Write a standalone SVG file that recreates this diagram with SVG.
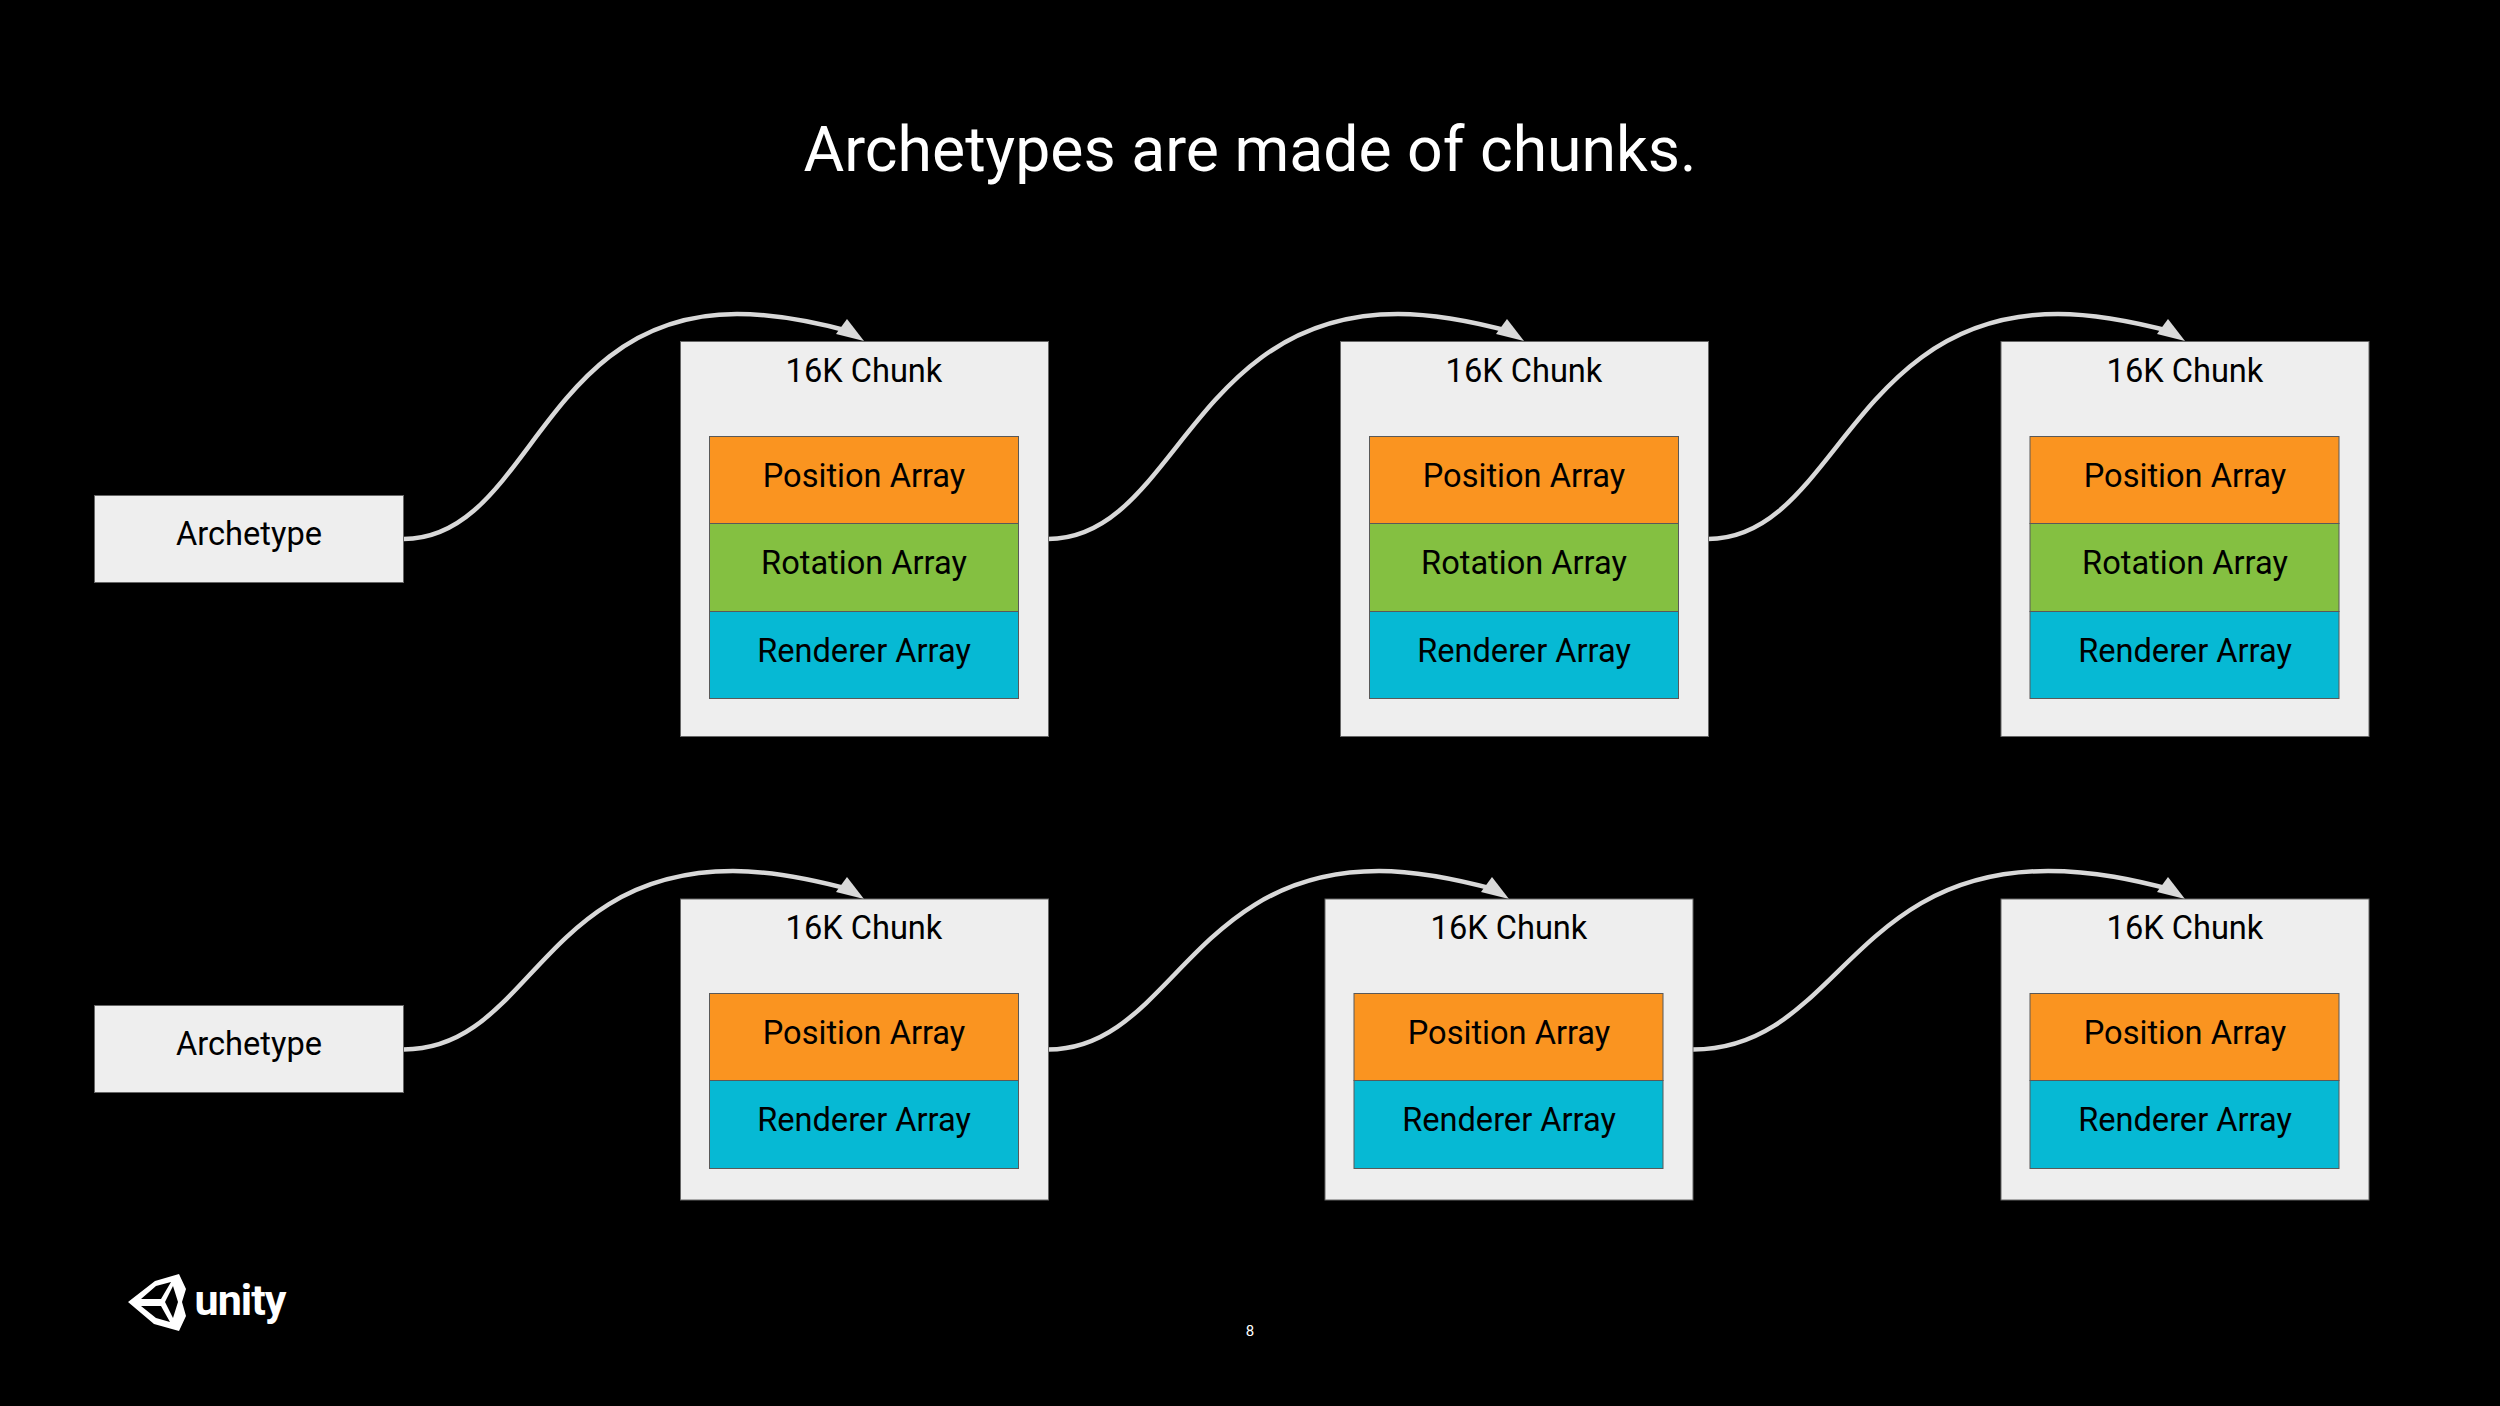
<svg xmlns="http://www.w3.org/2000/svg" width="2500" height="1406" viewBox="0 0 2500 1406">
<style>
text{font-family:Roboto,"Liberation Sans",sans-serif;text-anchor:middle;fill:#000;font-size:32.6px}
.box{fill:#eee;stroke:#666;stroke-width:1}
.in{stroke:#595959;stroke-width:1}
.o{fill:#fa9420}.g{fill:#84c041}.b{fill:#06b9d4}
.c{fill:none;stroke:#d9d9d9;stroke-width:4.5}
.h{fill:#d9d9d9}
</style>
<rect width="2500" height="1406" fill="#000"/>
<text id="title" x="1250" y="171" style="font-size:62.5px;fill:#fff">Archetypes are made of chunks.</text>
<g id="connectors">
<path class="c" d="M403.5 539C530 539 540 314 737 314C777 314 815 322 852 332"/><path class="h" d="M864 341L836 334L847 319Z"/>
<path class="c" d="M1048 539C1175 539 1190 314 1398 314C1438 314 1475 322 1512 332"/><path class="h" d="M1524 341L1496 334L1507 319Z"/>
<path class="c" d="M1708 539C1835 539 1850 314 2058 314C2097 314 2135 322 2173 332"/><path class="h" d="M2185 341L2157 334L2168 319Z"/>
<path class="c" d="M403.5 1049.5C530 1049.5 540 871 733 871C775 871 815 880 852 890"/><path class="h" d="M864 899L836 892L847 877Z"/>
<path class="c" d="M1048 1049.5C1170 1049.5 1190 871 1379 871C1420 871 1460 880 1497 890"/><path class="h" d="M1509 899L1481 892L1492 877Z"/>
<path class="c" d="M1693 1049.5C1835 1049.5 1850 871 2048 871C2095 871 2135 880 2173 890"/><path class="h" d="M2185 899L2157 892L2168 877Z"/>
</g>
<g id="archetype-1"><rect class="box" x="94.5" y="495.5" width="309" height="87"/><text x="249" y="545">Archetype</text></g>
<g id="archetype-2"><rect class="box" x="94.5" y="1005.5" width="309" height="87"/><text x="249" y="1055">Archetype</text></g>
<g id="chunk-1-1"><rect class="box" x="680.5" y="341.5" width="368" height="395"/><text x="864" y="382">16K Chunk</text>
<rect class="in o" x="709.5" y="436.5" width="309" height="87"/><text x="864" y="487">Position Array</text>
<rect class="in g" x="709.5" y="523.5" width="309" height="88"/><text x="864" y="574">Rotation Array</text>
<rect class="in b" x="709.5" y="611.5" width="309" height="87"/><text x="864" y="662">Renderer Array</text></g>
<g id="chunk-1-2"><rect class="box" x="1340.5" y="341.5" width="368" height="395"/><text x="1524" y="382">16K Chunk</text>
<rect class="in o" x="1369.5" y="436.5" width="309" height="87"/><text x="1524" y="487">Position Array</text>
<rect class="in g" x="1369.5" y="523.5" width="309" height="88"/><text x="1524" y="574">Rotation Array</text>
<rect class="in b" x="1369.5" y="611.5" width="309" height="87"/><text x="1524" y="662">Renderer Array</text></g>
<g id="chunk-1-3"><rect class="box" x="2001" y="341.5" width="368" height="395"/><text x="2185" y="382">16K Chunk</text>
<rect class="in o" x="2030" y="436.5" width="309" height="87"/><text x="2185" y="487">Position Array</text>
<rect class="in g" x="2030" y="523.5" width="309" height="88"/><text x="2185" y="574">Rotation Array</text>
<rect class="in b" x="2030" y="611.5" width="309" height="87"/><text x="2185" y="662">Renderer Array</text></g>
<g id="chunk-2-1"><rect class="box" x="680.5" y="899" width="368" height="301"/><text x="864" y="939">16K Chunk</text>
<rect class="in o" x="709.5" y="993.5" width="309" height="87"/><text x="864" y="1044">Position Array</text>
<rect class="in b" x="709.5" y="1080.5" width="309" height="88"/><text x="864" y="1131">Renderer Array</text></g>
<g id="chunk-2-2"><rect class="box" x="1325" y="899" width="368" height="301"/><text x="1509" y="939">16K Chunk</text>
<rect class="in o" x="1354" y="993.5" width="309" height="87"/><text x="1509" y="1044">Position Array</text>
<rect class="in b" x="1354" y="1080.5" width="309" height="88"/><text x="1509" y="1131">Renderer Array</text></g>
<g id="chunk-2-3"><rect class="box" x="2001" y="899" width="368" height="301"/><text x="2185" y="939">16K Chunk</text>
<rect class="in o" x="2030" y="993.5" width="309" height="87"/><text x="2185" y="1044">Position Array</text>
<rect class="in b" x="2030" y="1080.5" width="309" height="88"/><text x="2185" y="1131">Renderer Array</text></g>
<g id="logo">
<path fill="#fff" fill-rule="evenodd" d="M128 1302L155 1281L179 1274L186 1289L182 1302L186 1316L179 1331L154 1324ZM141 1299L161 1299L171 1282L156 1286ZM141 1306L156 1318L170 1322L161 1306ZM165 1302L173 1318L178 1302L173 1286Z"/>
<text x="240" y="1315" style="font-size:43px;font-weight:700;fill:#fff;letter-spacing:-1px">unity</text>
</g>
<text id="page" x="1250" y="1336" style="font-size:15px;fill:#fff">8</text>
</svg>
